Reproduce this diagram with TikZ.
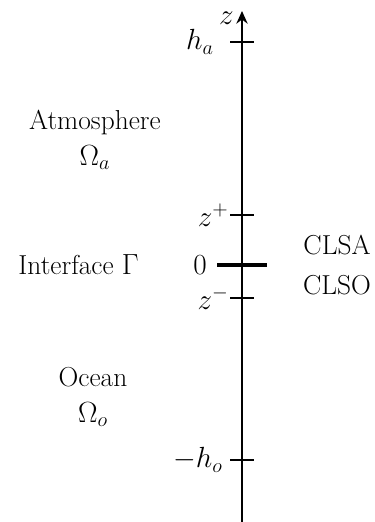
\documentclass[tikz,border=0pt]{standalone}
\usepackage{amsmath}
\usepackage{tikz}
\usetikzlibrary{arrows.meta,positioning}

\begin{document}
\begin{tikzpicture}[font={\fontsize{19.5}{25.6}\selectfont}, tick/.style={line width=1.4pt}, lab/.style={inner sep=0pt}, arr/.style={-{Stealth[length=9pt,width=8pt]}, line width=1.4pt}]
\useasboundingbox (-6.05,-6.425) rectangle (3.3,6.625);
% axis
\coordinate (bot) at (0,-6.425);
\coordinate (top) at (0,6.35);
\draw[arr] (bot) -- (top);
\node[lab, left=0.2cm of top, yshift=-0.17cm] (zlab) {$z$};
% ticks
\foreach \n/\y in {ha/5.575, zp/1.25, zm/-0.825, ho/-4.875}
  \draw[tick] (-0.3,\y) coordinate (\n) -- (0.3,\y);
\draw[line width=2.8pt] (-0.625,0) coordinate (zero) -- (0.625,0);
% tick labels
\node[lab, left=0.4cm of ha] (halab) {$h_a$};
\node[lab, left=0.03cm of zp] (zplab) {$z^+$};
\node[lab, left=0.25cm of zero] (zerolab) {$0$};
\node[lab, left=0.03cm of zm] (zmlab) {$z^-$};
\node[lab, left=0.18cm of ho] (holab) {$-h_o$};
% domains
\node[align=center] (atm) at (-3.675,3.125) {Atmosphere\\$\Omega_a$};
\node[lab, left=1.35cm of zerolab] (ifc) {Interface $\Gamma$};
\node[align=center] (ocn) at (-3.725,-3.3) {Ocean\\$\Omega_o$};
\node (clsa) at (2.375,0.5) {CLSA};
\node (clso) at (2.375,-0.5) {CLSO};
\end{tikzpicture}
\end{document}
